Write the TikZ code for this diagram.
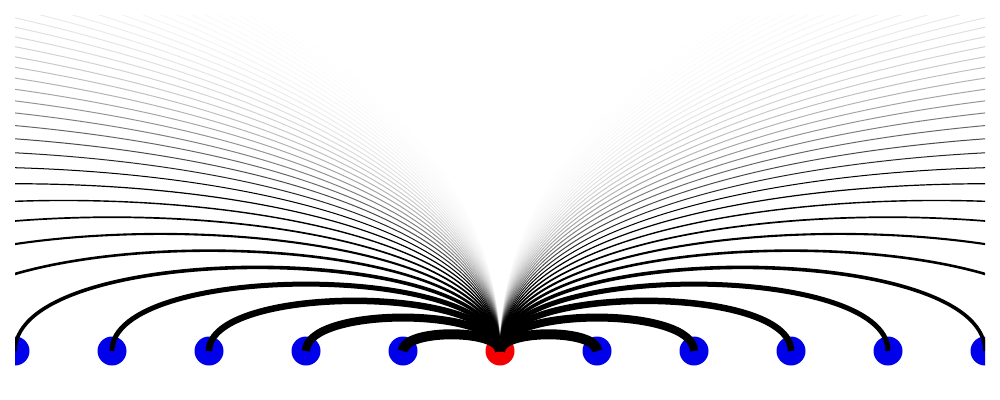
\documentclass[tikz,border=0pt]{standalone}
\definecolor{dotblue}{RGB}{0,0,235}
\definecolor{dotred}{RGB}{245,0,0}
\tikzset{
  dot/.style={circle,fill=#1,draw=none,inner sep=0pt,minimum size=21.75pt},
  arcline/.style={draw=black,line cap=butt},
}
\begin{document}
\begin{tikzpicture}[x=0.75pt,y=-0.75pt]
\useasboundingbox (0,0) rectangle (1000,400);
\clip (15,15) rectangle (985,385);
\node[dot=dotred] (C) at (500,351) {};
\foreach \k in {1,...,5} {
  \node[dot=dotblue] (L\k) at ({500-97*\k},351) {};
  \node[dot=dotblue] (R\k) at ({500+97*\k},351) {};
}
\foreach \k in {6,...,40} {
  \coordinate (L\k) at ({500-97*\k},351);
  \coordinate (R\k) at ({500+97*\k},351);
}
\foreach \k in {1,...,40} {
  \ifnum\k<11
    \pgfmathsetmacro\wpx{{10,8,6.5,5,3.6,2.6,2.1,1.7,1.4,1.2}[\k-1]}
  \else
    \pgfmathsetmacro\wpx{1.2*0.84^(\k-10)}
  \fi
  \pgfmathsetmacro\h{22.3*\k}
  \pgfmathsetmacro\lw{0.75*max(\wpx,1)}
  \pgfmathsetmacro\op{min(1,\wpx)}
  \draw[arcline,line width=\lw pt,draw opacity=\op] (C.center) .. controls +(0,-\h) and +(0,-\h) .. (L\k.center);
  \draw[arcline,line width=\lw pt,draw opacity=\op] (C.center) .. controls +(0,-\h) and +(0,-\h) .. (R\k.center);
}
\end{tikzpicture}
\end{document}
